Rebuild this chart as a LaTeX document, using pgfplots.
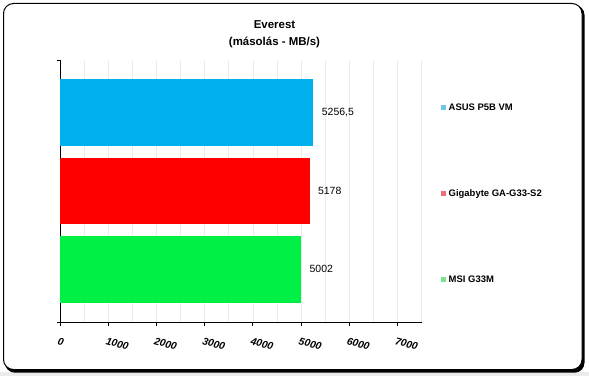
\documentclass[border=0pt]{standalone}
\usepackage{pgfplots}
\pgfplotsset{compat=1.18}
\usepackage{fontspec}
\setmainfont{Liberation Sans}
\definecolor{cblue}{RGB}{0,176,236}
\definecolor{cred}{RGB}{255,0,0}
\definecolor{cgreen}{RGB}{0,240,70}
\definecolor{lblue}{RGB}{110,200,235}
\definecolor{lred}{RGB}{240,110,120}
\definecolor{lgreen}{RGB}{120,230,140}
\definecolor{gridc}{RGB}{236,236,236}
\begin{document}
\begin{tikzpicture}[x=1bp,y=1bp]
\useasboundingbox (0,0) rectangle (589,376);
\fill[white] (0,0) rectangle (589,376);
\fill[black!8] (0,0) rectangle (589,4);
\fill[black,rounded corners=10bp] (5,3.3) rectangle (584.5,371);
\filldraw[fill=white,draw=black,line width=1bp,rounded corners=10bp] (3.5,6.5) rectangle (582,372.5);
\node[font=\bfseries\fontsize{11.5}{17}\selectfont, align=center] at (274.5,341.5) {Everest\\(másolás - MB/s)};
\begin{axis}[
  at={(60bp,53.5bp)}, anchor=south west,
  scale only axis, width=361.5bp, height=262.5bp,
  xmin=0, xmax=7500, ymin=-0.673, ymax=2.68, y dir=reverse,
  xbar, bar width=0.855, bar shift=0pt,
  axis x line*=bottom, axis y line*=left,
  axis line style={black, line width=0.8bp, -},
  xtick={0,1000,...,7000}, minor xtick={500,1500,...,7500},
  xmajorgrids, xminorgrids,
  major grid style={gridc, line width=0.6bp},
  minor grid style={gridc, line width=0.6bp},
  minor tick length=0pt, major tick length=3bp, tick align=outside,
  tick style={black, line width=0.8bp},
  ytick={-0.673,2.68}, yticklabels={,},
  scaled x ticks=false,
  /pgf/number format/1000 sep={},
  /pgf/number format/assume math mode=true,
  xticklabel style={font=\fontsize{10.3}{12}\selectfont\bfseries\itshape, rotate=-15, anchor=north west, inner sep=0pt, xshift=2bp, yshift=-11.5bp},
  nodes near coords={\pgfmathprintnumber[use comma,1000 sep={}]{\pgfplotspointmeta}},
  nodes near coords style={font=\fontsize{10.5}{12}\selectfont, anchor=west, xshift=5bp, black},
]
\addplot[draw=none, fill=cblue] coordinates {(5256.5,0)};
\addplot[draw=none, fill=cred] coordinates {(5178,1)};
\addplot[draw=none, fill=cgreen] coordinates {(5002,2)};
\end{axis}
\fill[lblue] (441,265.8) rectangle ++(5,5);
\node[anchor=west, font=\bfseries\fontsize{9.5}{11}\selectfont, inner sep=0pt] at (448.5,268.3) {ASUS P5B VM};
\fill[lred] (441,179.8) rectangle ++(5,5);
\node[anchor=west, font=\bfseries\fontsize{9.5}{11}\selectfont, inner sep=0pt] at (448.5,182.3) {Gigabyte GA-G33-S2};
\fill[lgreen] (441,94.5) rectangle ++(5,5);
\node[anchor=west, font=\bfseries\fontsize{9.5}{11}\selectfont, inner sep=0pt] at (448.5,97) {MSI G33M};
\end{tikzpicture}
\end{document}
